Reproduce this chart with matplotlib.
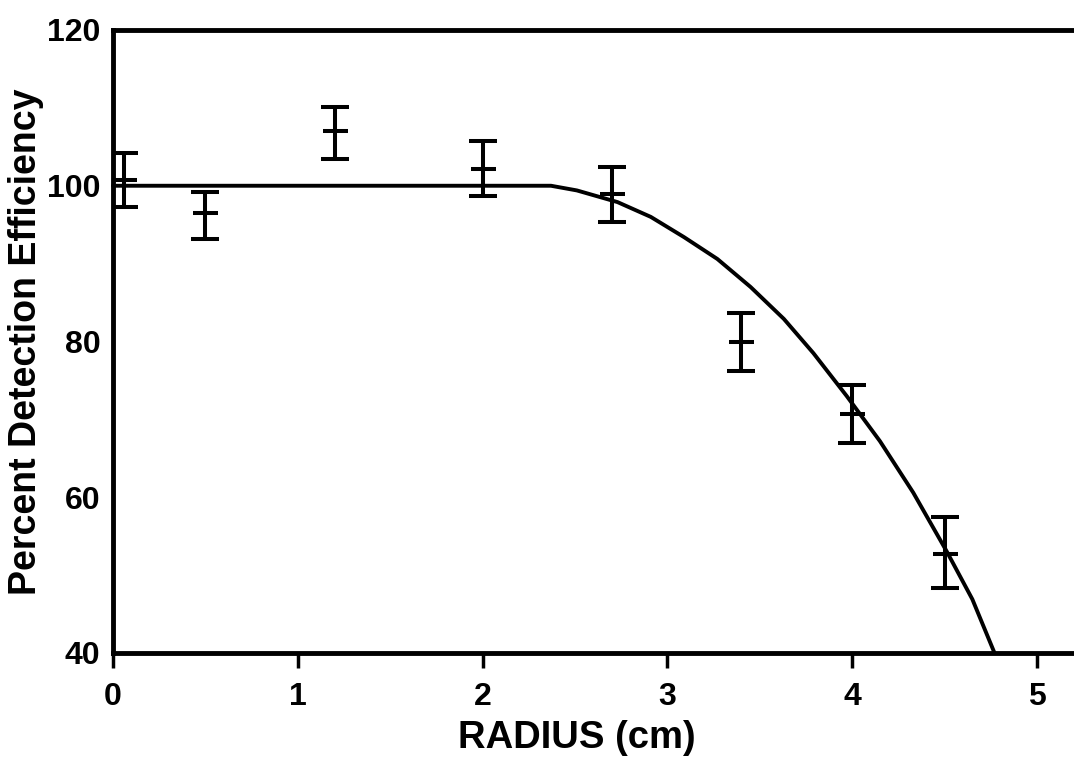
import matplotlib
matplotlib.use("Agg")
import matplotlib.pyplot as plt

# measured efficiency with error bars
radius = [0.06, 0.5, 1.2, 2.0, 2.7, 3.4, 4.0, 4.5]
efficiency = [100.7, 96.5, 107.0, 102.2, 98.9, 80.0, 70.7, 52.7]
err_low = [3.4, 3.3, 3.6, 3.5, 3.5, 3.8, 3.7, 4.3]
err_high = [3.5, 2.7, 3.1, 3.6, 3.5, 3.7, 3.7, 4.7]

# fitted response curve
curve_r = [0.0, 2.37, 2.51, 2.73, 2.91, 3.09, 3.27, 3.45, 3.63, 3.79,
           3.97, 4.15, 4.33, 4.51, 4.65, 4.77]
curve_eff = [100.0, 100.0, 99.4, 97.9, 96.0, 93.4, 90.6, 87.0, 82.9, 78.5,
             73.0, 67.2, 60.6, 53.1, 46.9, 40.0]

x_ticks = [0, 1, 2, 3, 4, 5]
y_ticks = [40, 60, 80, 100, 120]

fig = plt.figure(figsize=(10.74, 7.6), dpi=100)
ax = fig.add_axes([113 / 1074, 107 / 760, 1 - 113 / 1074, 623 / 760])

ax.plot(curve_r, curve_eff, color="black", lw=2.8, solid_capstyle="round",
        solid_joinstyle="round", clip_on=False, zorder=3)
ax.errorbar(radius, efficiency, yerr=[err_low, err_high], fmt="_", color="black",
            ms=18, mew=2.9, elinewidth=2.9, capsize=10, capthick=2.9, zorder=4)

ax.set_xlim(0, 5.2)
ax.set_ylim(40, 120)
ax.set_xticks(x_ticks)
ax.set_yticks(y_ticks)

for side in ["left", "top", "bottom"]:
    ax.spines[side].set_linewidth(3.5)
ax.spines["right"].set_visible(False)

ax.tick_params(axis="x", direction="out", length=11, width=2.5, pad=10)
ax.tick_params(axis="y", length=0, pad=9)
for lab in ax.get_xticklabels() + ax.get_yticklabels():
    lab.set_fontfamily("Liberation Sans")
    lab.set_fontweight("bold")
    lab.set_fontsize(23)

ax.set_xlabel("RADIUS (cm)", fontsize=27.5, fontweight="bold",
              fontfamily="Liberation Sans")
ax.xaxis.set_label_coords(0.483, -0.108)
ax.set_ylabel("Percent Detection Efficiency", fontsize=27, fontweight="bold",
              fontfamily="Liberation Sans", labelpad=2)

fig.savefig("out.png", dpi=100)
